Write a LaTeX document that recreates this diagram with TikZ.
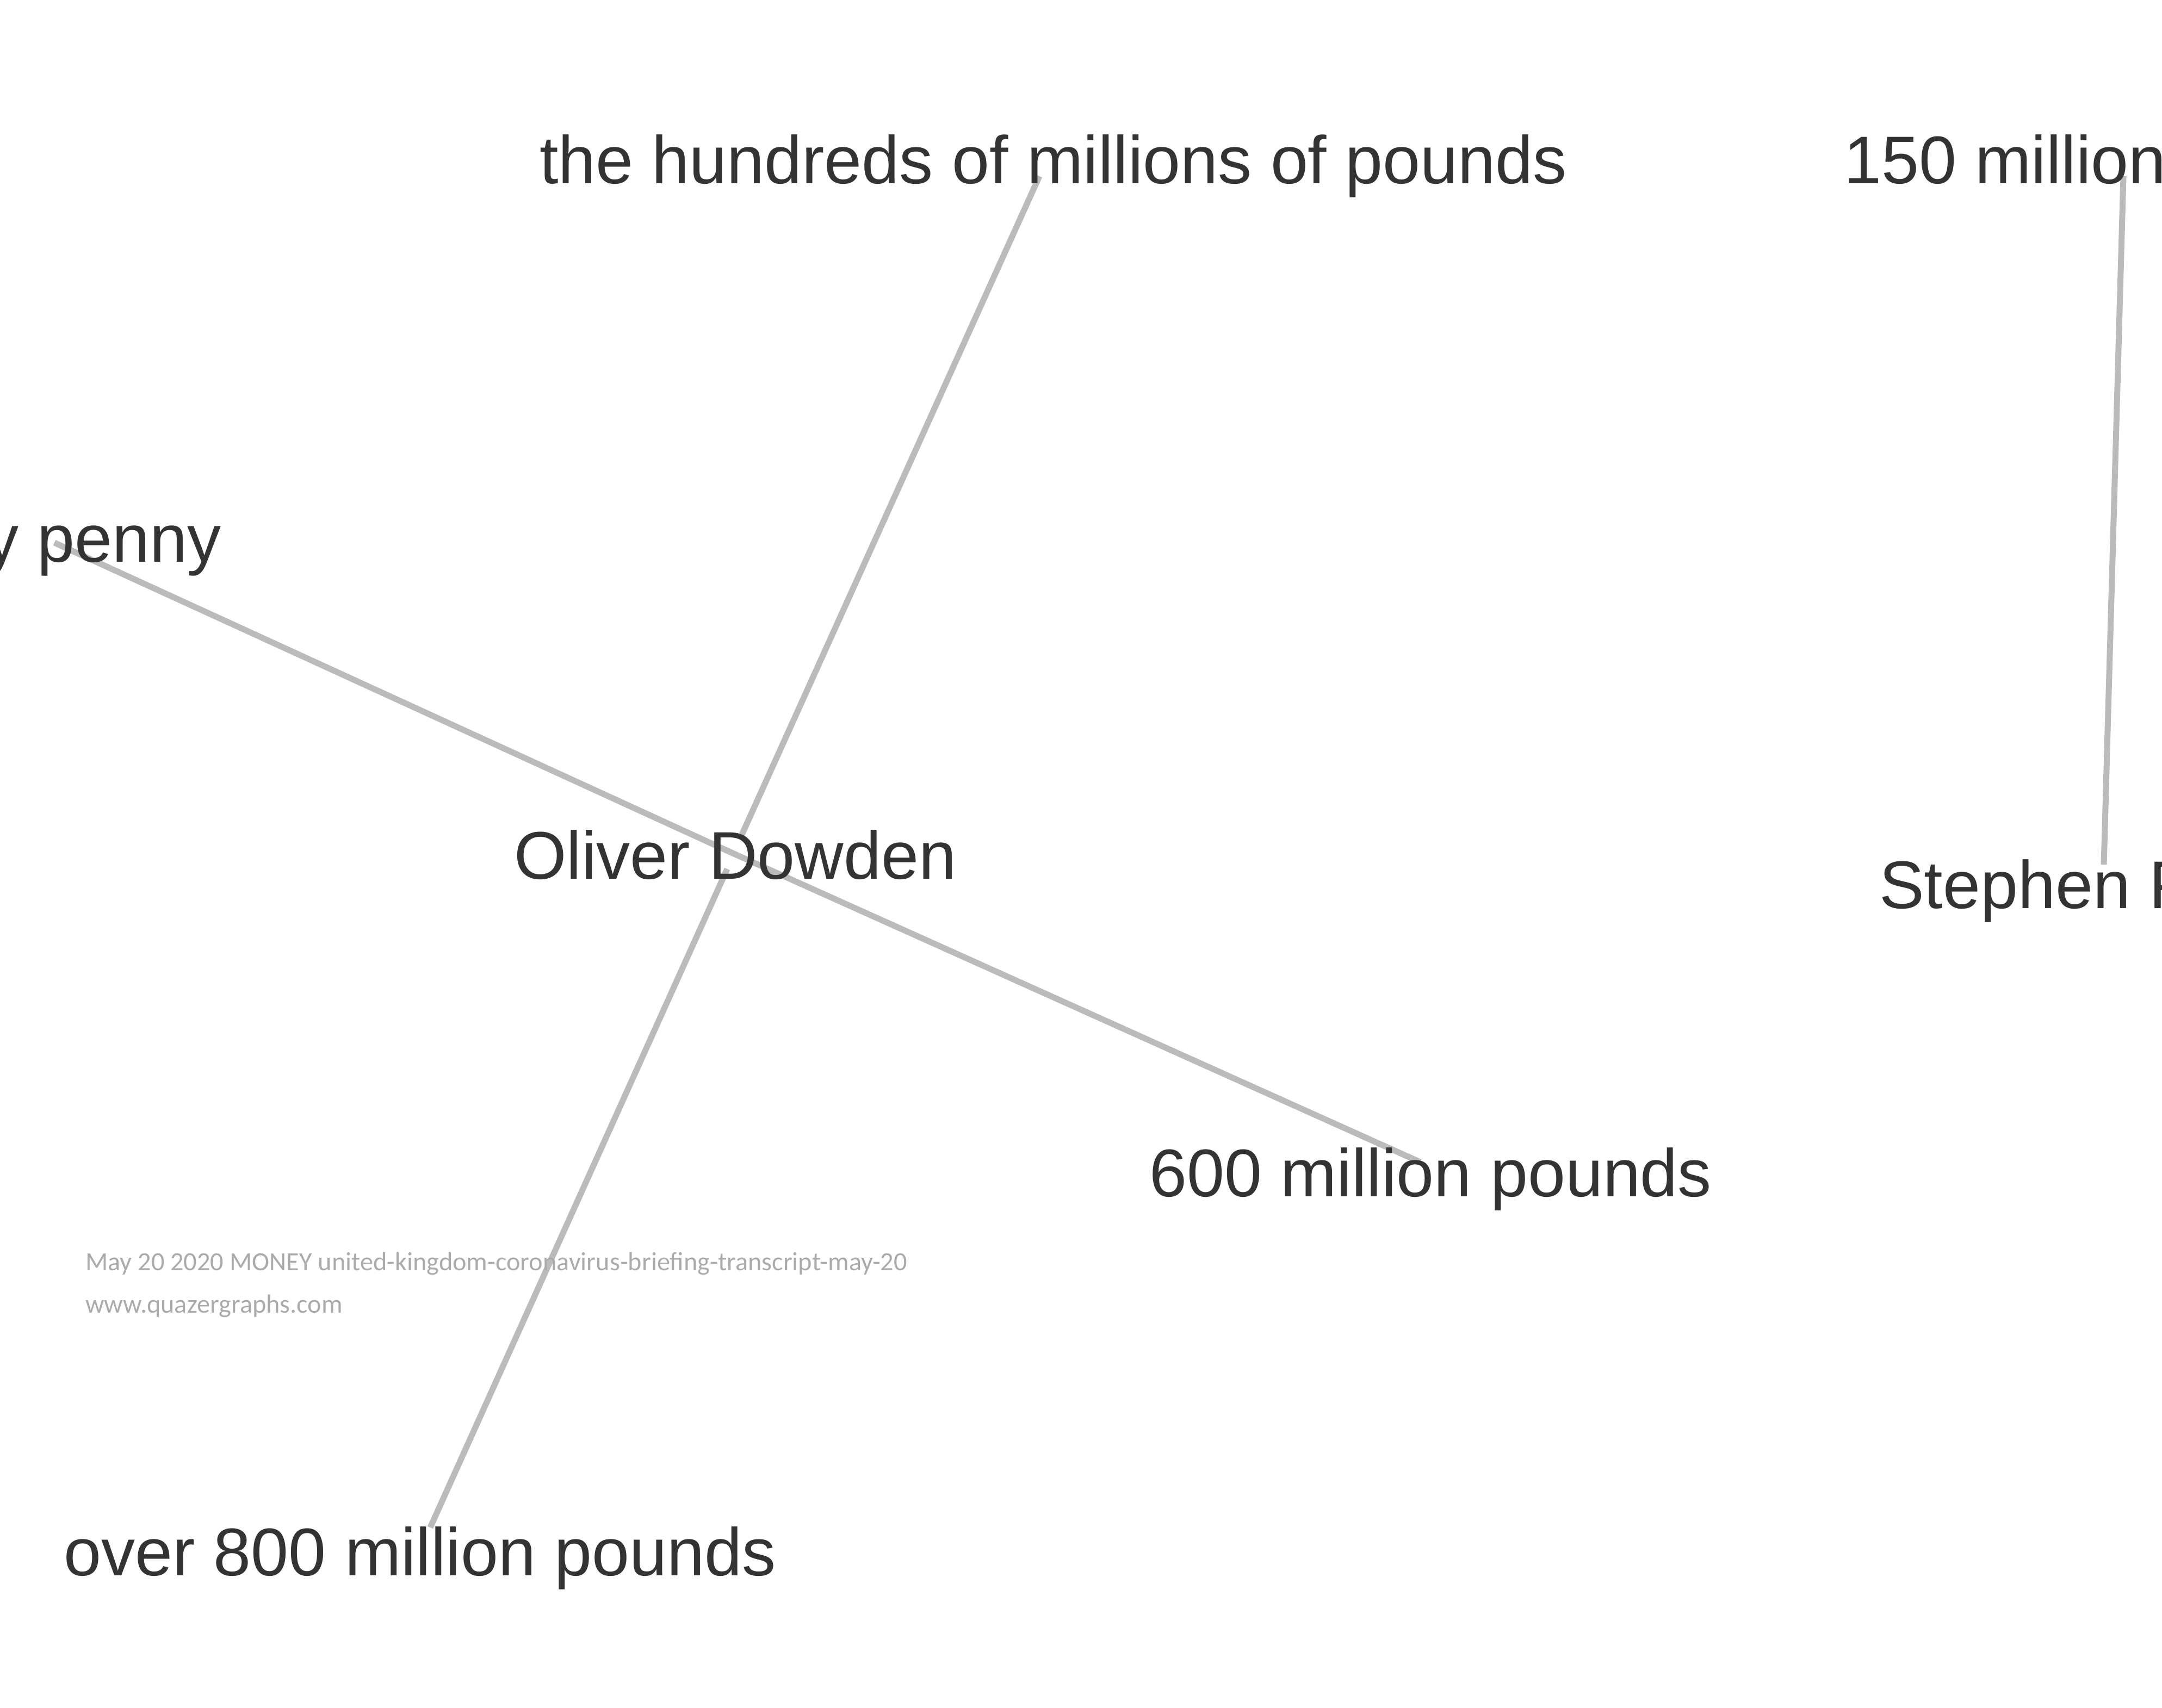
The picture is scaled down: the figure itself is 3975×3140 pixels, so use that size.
\documentclass[tikz,border=0pt]{standalone}
\usepackage{fontspec}
\setmainfont{Liberation Sans}
\newfontfamily\footfont{Carlito}
\usetikzlibrary{backgrounds}
\definecolor{txtc}{HTML}{333333}
\definecolor{edgec}{HTML}{BBBBBB}
\definecolor{footc}{HTML}{ABABAB}
\tikzset{
  lbl/.style={font=\fontsize{124}{140}\selectfont, text=txtc, inner sep=0pt, anchor=base west},
  lble/.style={lbl, anchor=base east},
  foot/.style={font=\footfont\fontsize{48.3}{56}\selectfont, text=footc, inner sep=0pt, anchor=base west},
  link/.style={draw=edgec, line width=11pt}
}
\begin{document}
\begin{tikzpicture}[x=1pt,y=-1pt]
\useasboundingbox (0,0) rectangle (3975,3140);
\clip (0,0) rectangle (3975,3140);
% labels
\node[lbl]  (hund)   at (992,337)   {the hundreds of millions of pounds};
\node[lbl]  (m150)   at (3390,337)  {150 million pounds};
\node[lble] (penny)  at (407,1033)  {every penny};
\node[lbl]  (oliver) at (945,1616)  {Oliver Dowden};
\node[lbl]  (steph)  at (3455,1670) {Stephen Powis};
\node[lbl]  (m600)   at (2113,2200) {600 million pounds};
\node[lbl]  (m800)   at (117,2897)  {over 800 million pounds};
\node[foot] (f1) at (157,2336) {May 20 2020 MONEY united-kingdom-coronavirus-briefing-transcript-may-20};
\node[foot] (f2) at (157,2414) {www.quazergraphs.com};
% edge end points
\coordinate (hundE)  at (1911,324);
\coordinate (odA)    at (1363,1537);
\coordinate (odB)    at (1337,1598);
\coordinate (odC)    at (1345,1568);
\coordinate (m800E)  at (791,2809);
\coordinate (pennyE) at (100,998);
\coordinate (m600E)  at (2611,2137);
\coordinate (m150E)  at (3904,324);
\coordinate (stephE) at (3868,1590);
\begin{pgfonlayer}{background}
\draw[link] (hundE) -- (odA);
\draw[link] (odB) -- (m800E);
\draw[link] (pennyE) -- (odC);
\draw[link] (odC) -- (m600E);
\draw[link] (m150E) -- (stephE);
\end{pgfonlayer}
\end{tikzpicture}
\end{document}
